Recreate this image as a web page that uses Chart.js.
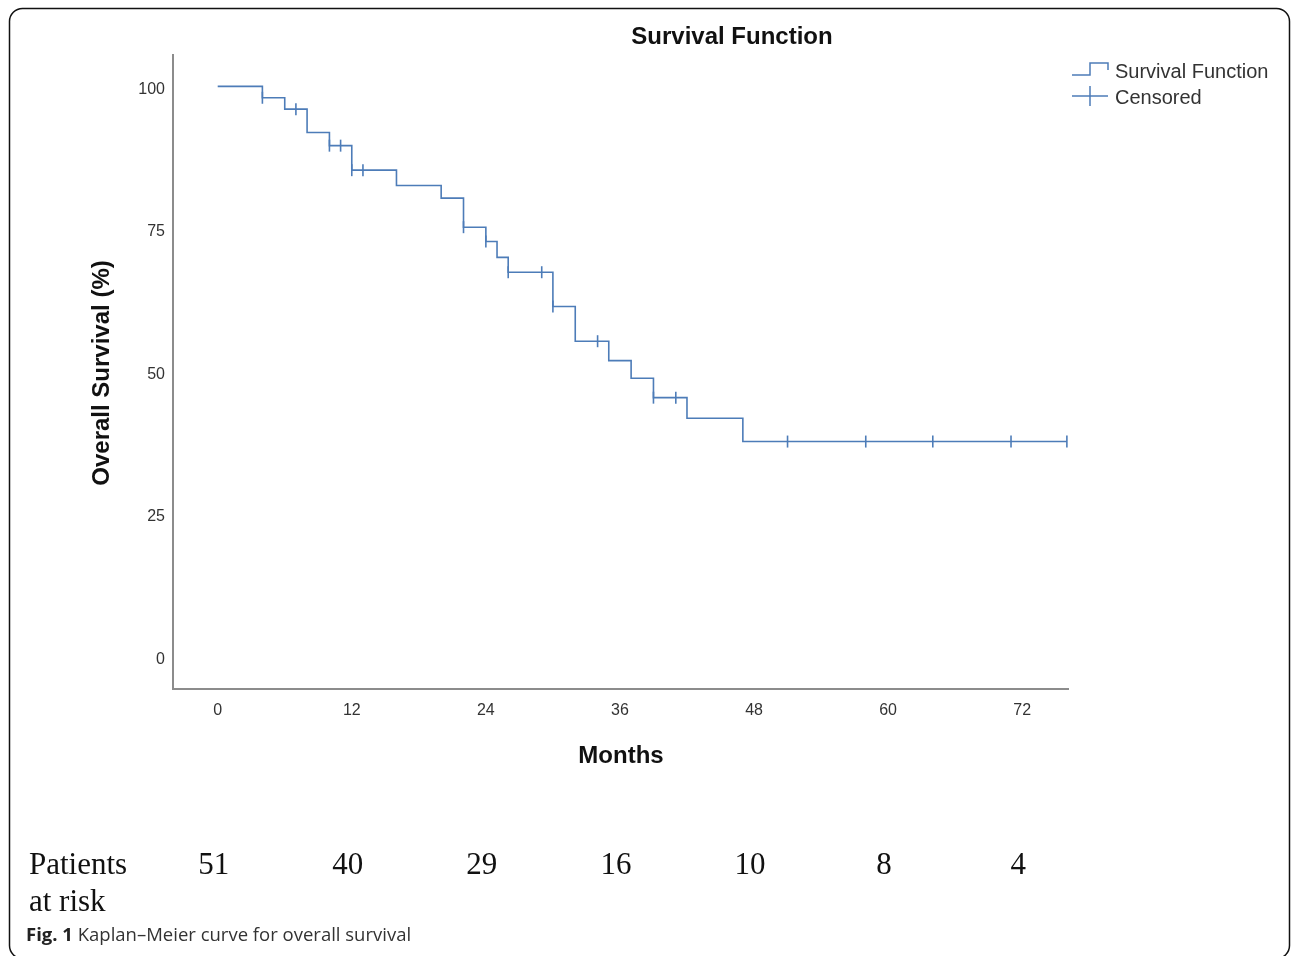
<!DOCTYPE html>
<html>
<head>
<meta charset="utf-8">
<script src="https://cdn.jsdelivr.net/npm/chart.js@4.4.1/dist/chart.umd.min.js"></script>
<style>
  html, body { margin: 0; padding: 0; background: #fff; }
  #wrap { width: 1292px; height: 956px; }
</style>
</head>
<body>
<div id="wrap"><canvas id="kmChart" width="1292" height="956"></canvas></div>
<script>
// survival step curve (months, %)
const times = [0, 4, 6, 8, 10, 12, 16, 20, 22, 24, 25, 26, 30, 32, 35, 37, 39, 42, 47, 76];
const survival = [100, 98, 96, 91.9, 89.6, 85.3, 82.6, 80.4, 75.3, 72.8, 70.0, 67.4, 61.4, 55.3, 51.9, 48.8, 45.4, 41.8, 37.7, 37.7];
// censored observations (months)
const censorTimes = [4, 7, 10, 11, 12, 13, 22, 24, 26, 29, 30, 34, 39, 41, 51, 58, 64, 71, 76];
const xTicks = [0, 12, 24, 36, 48, 60, 72];
const yTicks = [0, 25, 50, 75, 100];
// patients at risk row
const riskTimes = [0, 12, 24, 36, 48, 60, 72];
const riskCounts = [51, 40, 29, 16, 10, 8, 4];

const lineColor = '#4d7cb8';

// survival level at a given time
function levelAt(t) {
  let v = survival[0];
  for (let i = 0; i < times.length; i++) {
    if (times[i] <= t) v = survival[i];
  }
  return v;
}

const curve = times.map((t, i) => ({ x: t, y: survival[i] }));
const censored = censorTimes.map(t => ({ x: t, y: levelAt(t) }));

const decor = {
  id: 'decor',
  beforeDraw(chart) {
    const c = chart.ctx;
    c.save();
    c.fillStyle = '#fff';
    c.fillRect(0, 0, chart.width, chart.height);
    // figure frame
    c.strokeStyle = '#111';
    c.lineWidth = 1.5;
    c.beginPath();
    c.roundRect(9.5, 8.5, 1280, 950, 13);
    c.stroke();
    c.restore();
  },
  afterDraw(chart) {
    const c = chart.ctx;
    const xs = chart.scales.x;
    c.save();
    c.fillStyle = '#111';
    c.textAlign = 'center';
    c.textBaseline = 'middle';
    c.font = 'bold 24px "Liberation Sans", Arial, sans-serif';
    c.fillText('Survival Function', 732, 37);
    c.fillText('Months', 621, 756);
    c.save();
    c.translate(102, 373);
    c.rotate(-Math.PI / 2);
    c.fillText('Overall Survival (%)', 0, 0);
    c.restore();

    // legend
    c.strokeStyle = lineColor;
    c.lineWidth = 1.5;
    c.beginPath();
    c.moveTo(1072, 75); c.lineTo(1090, 75); c.lineTo(1090, 63);
    c.lineTo(1108, 63); c.lineTo(1108, 70);
    c.moveTo(1072, 96); c.lineTo(1108, 96);
    c.moveTo(1090, 86); c.lineTo(1090, 106);
    c.stroke();
    c.fillStyle = '#333';
    c.textAlign = 'left';
    c.font = '20px "Liberation Sans", Arial, sans-serif';
    c.fillText('Survival Function', 1115, 72);
    c.fillText('Censored', 1115, 98);

    // patients at risk
    c.fillStyle = '#111';
    c.font = '31px "Liberation Serif", "Times New Roman", serif';
    c.fillText('Patients', 29, 866);
    c.fillText('at risk', 29, 903);
    c.textAlign = 'center';
    riskCounts.forEach((n, i) => {
      c.fillText(String(n), xs.getPixelForValue(riskTimes[i]) - 4, 866);
    });

    // caption
    c.textAlign = 'left';
    c.font = 'bold 18.5px "Open Sans", sans-serif';
    c.fillStyle = '#222';
    const lead = 'Fig. 1';
    c.fillText(lead, 26, 936);
    const w = c.measureText(lead + ' ').width;
    c.font = '18.5px "Open Sans", sans-serif';
    c.fillStyle = '#333';
    c.fillText('Kaplan\u2013Meier curve for overall survival', 26 + w, 936);
    c.restore();
  }
};

new Chart(document.getElementById('kmChart'), {
  type: 'line',
  data: {
    datasets: [{
      label: 'Survival Function',
      data: curve,
      stepped: 'before',
      borderColor: lineColor,
      borderWidth: 1.6,
      pointRadius: 0,
      fill: false,
      clip: false
    }, {
      label: 'Censored',
      data: censored,
      showLine: false,
      pointStyle: 'line',
      rotation: 90,
      pointRadius: 6,
      pointBorderWidth: 1.6,
      borderColor: lineColor,
      clip: false
    }]
  },
  plugins: [decor],
  options: {
    responsive: false,
    animation: false,
    layout: { padding: { left: 123, top: 55, right: 224, bottom: 227 } },
    plugins: {
      legend: { display: false },
      title: { display: false },
      tooltip: { enabled: false }
    },
    scales: {
      x: {
        type: 'linear',
        min: -4,
        max: 76.1,
        grid: { display: false, drawTicks: false },
        border: { display: true, color: '#8c8c8c', width: 2 },
        afterBuildTicks: s => { s.ticks = xTicks.map(v => ({ value: v })); },
        afterFit: s => { s.height = 40; },
        ticks: {
          padding: 12,
          color: '#333',
          font: { family: '"Liberation Sans", Arial, sans-serif', size: 16 }
        }
      },
      y: {
        type: 'linear',
        min: -5.7,
        max: 105.5,
        grid: { display: false, drawTicks: false },
        border: { display: true, color: '#8c8c8c', width: 2 },
        afterBuildTicks: s => { s.ticks = yTicks.map(v => ({ value: v })); },
        afterFit: s => { s.width = 50; },
        ticks: {
          padding: 8,
          labelOffset: 3,
          color: '#333',
          font: { family: '"Liberation Sans", Arial, sans-serif', size: 16 }
        }
      }
    }
  }
});
</script>
</body>
</html>
